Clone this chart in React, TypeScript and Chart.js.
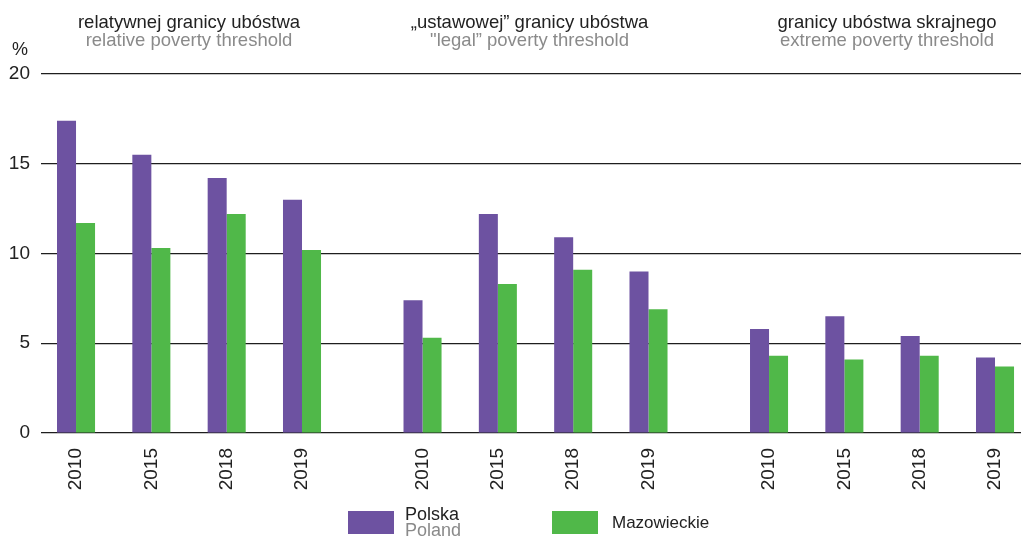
import React, { useEffect, useRef } from 'react';
import { Chart, registerables } from 'chart.js';

Chart.register(...registerables);

// ---------- data ----------
const years = ['2010', '2015', '2018', '2019'];
const thresholdsPl = ['relatywnej granicy ubóstwa', '„ustawowej” granicy ubóstwa', 'granicy ubóstwa skrajnego'];
const thresholdsEn = ['relative poverty threshold', '"legal” poverty threshold', 'extreme poverty threshold'];
const polska = [17.4, 15.5, 14.2, 13.0, 7.4, 12.2, 10.9, 9.0, 5.8, 6.5, 5.4, 4.2];
const mazowieckie = [11.7, 10.3, 12.2, 10.2, 5.3, 8.3, 9.1, 6.9, 4.3, 4.1, 4.3, 3.7];
const seriesPl = ['Polska', 'Mazowieckie'];
const seriesEn = ['Poland', ''];
const yTickStep = 5;
const yMax = 20;

// ---------- layout / style ----------
const W = 1021;
const H = 539;
const FONT = '"Liberation Sans", Arial, sans-serif';
const PURPLE = '#6d52a1';
const GREEN = '#50b849';
const DARK = '#222222';
const GRAY = '#8a8a8a';
const GROUP_STEP = 4.6;
const X_MIN = -0.465;
const X_MAX = 12.545;
const HEADER_SHIFT = [0, -6, 5];

const positions = polska.map((_, k) => Math.floor(k / years.length) * GROUP_STEP + (k % years.length));
const xLabels = polska.map((_, k) => years[k % years.length]);

const overlay = {
  id: 'overlay',
  afterDraw(chart: any) {
    const ctx = chart.ctx as CanvasRenderingContext2D;
    const xs = chart.scales.x;
    ctx.save();
    ctx.textBaseline = 'alphabetic';
    // group headers
    ctx.textAlign = 'center';
    ctx.font = `18.5px ${FONT}`;
    thresholdsPl.forEach((t, g) => {
      const a = xs.getPixelForValue(positions[g * years.length]);
      const b = xs.getPixelForValue(positions[g * years.length + years.length - 1]);
      const cx = (a + b) / 2 + HEADER_SHIFT[g];
      ctx.fillStyle = DARK;
      ctx.fillText(t, cx, 28);
      ctx.fillStyle = GRAY;
      ctx.fillText(thresholdsEn[g], cx, 46);
    });
    // unit
    ctx.textAlign = 'left';
    ctx.fillStyle = DARK;
    ctx.font = `18px ${FONT}`;
    ctx.fillText('%', 12, 55);
    // legend
    const colors = [PURPLE, GREEN];
    const boxX = [348, 552];
    seriesPl.forEach((name, i) => {
      ctx.fillStyle = colors[i];
      ctx.fillRect(boxX[i], 511, 46, 23);
      const tx = boxX[i] + 57 + (i === 1 ? 3 : 0);
      if (seriesEn[i]) {
        ctx.font = `18px ${FONT}`;
        ctx.fillStyle = DARK;
        ctx.fillText(name, tx, 520);
        ctx.fillStyle = GRAY;
        ctx.fillText(seriesEn[i], tx, 536);
      } else {
        ctx.font = `17px ${FONT}`;
        ctx.fillStyle = DARK;
        ctx.fillText(name, tx, 528);
      }
    });
    ctx.restore();
  },
};

export default function App() {
  const ref = useRef<HTMLCanvasElement | null>(null);

  useEffect(() => {
    if (!ref.current) return;
    const chart = new Chart(ref.current, {
      type: 'bar',
      data: {
        datasets: [
          {
            label: seriesPl[0],
            data: polska.map((v, k) => ({ x: positions[k], y: v })),
            backgroundColor: PURPLE,
            borderWidth: 0,
            categoryPercentage: 0.505,
            barPercentage: 1,
          },
          {
            label: seriesPl[1],
            data: mazowieckie.map((v, k) => ({ x: positions[k], y: v })),
            backgroundColor: GREEN,
            borderWidth: 0,
            categoryPercentage: 0.505,
            barPercentage: 1,
          },
        ],
      },
      options: {
        animation: false,
        responsive: false,
        devicePixelRatio: 1,
        layout: { padding: { top: 74, left: 0, right: 0, bottom: 0 } },
        plugins: { legend: { display: false }, tooltip: { enabled: false } },
        scales: {
          x: {
            type: 'linear',
            offset: false,
            min: X_MIN,
            max: X_MAX,
            grid: { display: false, offset: false },
            border: { display: false },
            afterBuildTicks: (s: any) => {
              s.ticks = positions.map((v) => ({ value: v }));
            },
            afterFit: (s: any) => {
              s.height = 106;
              s.paddingLeft = 0;
              s.paddingRight = 0;
            },
            ticks: {
              autoSkip: false,
              minRotation: 90,
              maxRotation: 90,
              padding: 7,
              color: DARK,
              font: { family: FONT, size: 19 },
              callback: (_v: any, i: number) => xLabels[i],
            },
          },
          y: {
            min: 0,
            max: yMax,
            afterFit: (s: any) => {
              s.width = 41;
              s.paddingTop = 0;
              s.paddingBottom = 0;
            },
            grid: { color: '#1e1e1e', lineWidth: 1.2, drawTicks: false },
            border: { display: false },
            ticks: {
              stepSize: yTickStep,
              padding: 11,
              color: DARK,
              font: { family: FONT, size: 19 },
            },
          },
        },
      },
      plugins: [overlay],
    } as any);
    return () => chart.destroy();
  }, []);

  return (
    <div style={{ position: 'fixed', left: 0, top: 0, width: W, height: H, background: '#fff' }}>
      <canvas ref={ref} width={W} height={H} style={{ display: 'block', width: W, height: H }} />
    </div>
  );
}
